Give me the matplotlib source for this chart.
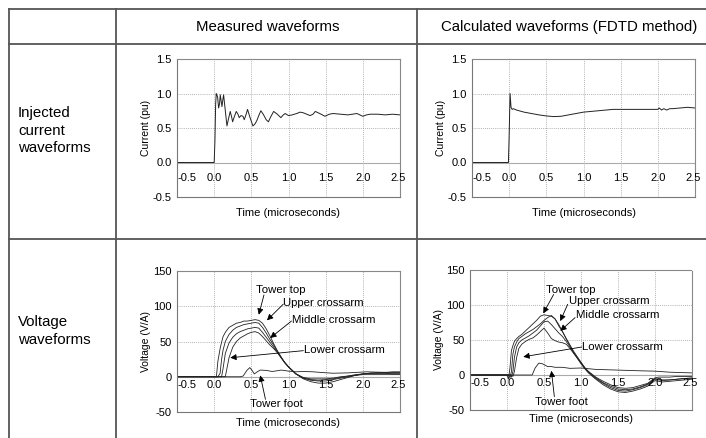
import matplotlib
matplotlib.use("Agg")
import matplotlib.pyplot as plt
from matplotlib.lines import Line2D

plt.rcParams["font.family"] = ["Liberation Sans", "DejaVu Sans"]

# injected current, measured
t_meas_i = [-0.5, 0.0, 0.01, 0.02, 0.028, 0.046, 0.06, 0.072, 0.082, 0.105, 0.118, 0.127, 0.15, 0.172,
            0.19, 0.216, 0.235, 0.248, 0.27, 0.297, 0.32, 0.337, 0.36, 0.387, 0.405, 0.43, 0.449,
            0.48, 0.521, 0.55, 0.575, 0.6, 0.628, 0.66, 0.7, 0.73, 0.76, 0.8, 0.85, 0.897, 0.93,
            0.955, 1.0, 1.05, 1.11, 1.157, 1.2, 1.29, 1.33, 1.36, 1.42, 1.49, 1.55, 1.6, 1.7, 1.8,
            1.92, 2.0, 2.05, 2.1, 2.2, 2.3, 2.4, 2.5]
i_meas = [0, 0, 0.3, 0.85, 1.0, 0.95, 0.79, 0.85, 0.98, 0.81, 0.92, 0.98, 0.75, 0.53,
          0.62, 0.74, 0.66, 0.59, 0.66, 0.74, 0.7, 0.65, 0.68, 0.67, 0.62, 0.7, 0.77,
          0.66, 0.53, 0.56, 0.61, 0.68, 0.75, 0.7, 0.62, 0.59, 0.66, 0.74, 0.7, 0.65, 0.69,
          0.71, 0.68, 0.69, 0.71, 0.73, 0.72, 0.68, 0.7, 0.74, 0.71, 0.67, 0.7, 0.71, 0.7, 0.69,
          0.71, 0.67, 0.69, 0.7, 0.7, 0.69, 0.7, 0.69]

# injected current, FDTD
t_calc_i = [-0.5, -0.01, 0.0, 0.012, 0.025, 0.04, 0.055, 0.1, 0.2, 0.3, 0.4, 0.5, 0.6, 0.7, 0.8,
            0.9, 1.0, 1.1, 1.2, 1.3, 1.4, 1.5, 1.7, 1.9, 2.0, 2.02, 2.05, 2.08, 2.12, 2.16, 2.2,
            2.3, 2.4, 2.5]
i_calc = [0, 0, 0.4, 1.0, 0.8, 0.77, 0.78, 0.76, 0.73, 0.71, 0.69, 0.675, 0.665, 0.67, 0.69,
          0.71, 0.73, 0.74, 0.75, 0.76, 0.77, 0.77, 0.77, 0.77, 0.77, 0.79, 0.76, 0.78, 0.76, 0.78,
          0.78, 0.79, 0.8, 0.79]

# voltage, measured
t_mv = [-0.5, 0.0, 0.03, 0.05, 0.08, 0.1, 0.12, 0.15, 0.2, 0.25, 0.3, 0.35, 0.4, 0.45, 0.5, 0.55,
        0.6, 0.65, 0.7, 0.75, 0.8, 0.85, 0.9, 0.95, 1.0, 1.1, 1.2, 1.3, 1.4, 1.5, 1.6, 1.7, 1.8,
        1.9, 2.0, 2.1, 2.2, 2.3, 2.4, 2.5]
v_top_m = [0, 0, 0, 22, 40, 49, 57, 63, 70, 73, 76, 77, 79, 79, 80, 81, 80, 76, 68, 58, 47, 37,
           28, 20, 14, 4, -3, -7, -9, -9, -7, -4, -1, 2, 4, 5, 6, 6, 7, 7]
v_upper_m = [0, 0, 0, 0, 5, 25, 38, 50, 60, 66, 70, 72, 74, 75, 76, 77, 76, 70, 62, 53, 45, 36,
             28, 20, 14, 4, -2, -5, -6, -6, -4, -2, 0, 2, 4, 5, 5, 5, 5, 5]
v_middle_m = [0, 0, 0, 0, 0, 0, 12, 33, 48, 56, 61, 64, 66, 68, 69, 70, 69, 63, 56, 49, 42, 35,
              27, 20, 14, 4, -2, -4, -5, -4, -3, -1, 1, 3, 4, 5, 5, 5, 4, 4]
v_lower_m = [0, 0, 0, 0, 0, 0, 0, 0, 27, 42, 50, 55, 58, 61, 63, 64, 62, 57, 51, 45, 40, 34,
             27, 20, 14, 4, -1, -3, -3, -3, -2, 0, 1, 2, 3, 3, 3, 3, 3, 3]
t_foot_m = [-0.5, 0.35, 0.39, 0.44, 0.48, 0.51, 0.54, 0.58, 0.62, 0.7, 0.78, 0.85, 0.9, 1.0,
            1.1, 1.2, 1.33, 1.45, 1.6, 1.8, 2.05, 2.2, 2.5]
v_foot_m = [0, 0, 1, 9, 13, 9, 4, 7, 9.5, 9, 7.5, 8.5, 9.5, 8, 7, 7.5, 7, 6, 5, 5.5, 7, 6.5, 6]

# voltage, FDTD
t_cv = [-0.5, 0.0, 0.02, 0.04, 0.06, 0.08, 0.1, 0.13, 0.16, 0.2, 0.25, 0.3, 0.35, 0.4, 0.45, 0.5,
        0.55, 0.6, 0.65, 0.7, 0.75, 0.8, 0.85, 0.9, 0.95, 1.0, 1.05, 1.1, 1.2, 1.3, 1.4, 1.5, 1.6,
        1.7, 1.8, 1.9, 1.95, 2.0, 2.05, 2.1, 2.2, 2.3, 2.4, 2.5]
v_top_c = [0, 0, -6, 10, 35, 42, 48, 52, 55, 58, 63, 68, 73, 78, 84, 86, 85, 84, 80, 70, 62, 52,
           42, 32, 24, 16, 9, 3, -6, -14, -20, -24, -25, -23, -20, -16, -12, -8, -9, -10, -9, -8,
           -7, -6]
v_upper_c = [0, 0, 0, -4, 5, 30, 40, 47, 52, 55, 59, 62, 65, 69, 73, 78, 82, 85, 80, 72, 62, 52,
             43, 34, 26, 18, 10, 4, -5, -12, -18, -22, -23, -21, -18, -14, -10, -6, -7, -8, -7,
             -6, -5, -5]
v_middle_c = [0, 0, 0, 0, -3, 5, 25, 40, 46, 50, 53, 56, 60, 64, 70, 76, 77, 72, 66, 60, 55, 48,
              40, 32, 25, 18, 11, 5, -4, -11, -16, -20, -21, -20, -17, -13, -9, -5, -6, -7, -7,
              -6, -5, -4]
v_lower_c = [0, 0, 0, 0, 0, -2, 5, 25, 38, 44, 48, 51, 53, 57, 62, 67, 60, 52, 49, 47, 46, 44,
             38, 31, 24, 17, 10, 5, -3, -9, -14, -18, -19, -18, -15, -12, -8, -4, -3, -3, -3,
             -2, -2, -2]
t_foot_c = [-0.5, 0.34, 0.38, 0.43, 0.48, 0.55, 0.6, 0.65, 0.75, 0.85, 1.0, 1.2, 1.5, 1.8, 2.0,
            2.2, 2.5]
v_foot_c = [0, 0, 10, 17, 16, 12, 12, 11, 11, 9.5, 10, 8, 7, 6, 5.5, 4, 3]

x_ticks = [-0.5, 0.0, 0.5, 1.0, 1.5, 2.0, 2.5]
labels = ["Tower top", "Upper crossarm", "Middle crossarm", "Lower crossarm", "Tower foot"]

W, H = 706, 438
fig = plt.figure(figsize=(W / 100, H / 100), dpi=100)


def px_axes(x0, y0, x1, y1):
    return fig.add_axes([x0 / W, 1 - y1 / H, (x1 - x0) / W, (y1 - y0) / H])


def px_line(xs, ys):
    fig.add_artist(Line2D([x / W for x in xs], [1 - y / H for y in ys],
                          color="#555555", lw=1.3))


def style_axes(ax, ylim, yticks, ylabel, lbl_y, xlabel_pad):
    ax.set_xlim(-0.5, 2.5)
    ax.set_ylim(*ylim)
    ax.set_xticks(x_ticks)
    ax.set_xticklabels([])
    ax.set_yticks(yticks)
    ax.set_yticklabels([f"{v:.1f}" if isinstance(v, float) else str(v) for v in yticks],
                       fontsize=8)
    ax.tick_params(length=0, pad=4)
    for s in ["left", "bottom"]:
        ax.spines[s].set_color("#777777")
        ax.spines[s].set_linewidth(0.8)
    for s in ["top", "right"]:
        ax.spines[s].set_color("#888888")
        ax.spines[s].set_linewidth(0.8)
        ax.spines[s].set_linestyle((0, (1, 1)))
    for x in x_ticks[1:-1]:
        ax.axvline(x, color="#999999", lw=0.6, ls=(0, (1, 1.5)), zorder=0)
    for y in yticks[1:-1]:
        if y != 0:
            ax.axhline(y, color="#999999", lw=0.6, ls=(0, (1, 1.5)), zorder=0)
    ax.axhline(0, color="#aaaaaa", lw=0.8, zorder=0)
    # x tick labels sit just under the zero line, end labels pulled inward
    for x in x_ticks:
        ha = "center"
        xpos = x
        if x == x_ticks[0]:
            ha, xpos = "left", x + 0.005
        elif x == x_ticks[-1]:
            xpos = x - 0.03
        ax.text(xpos, lbl_y, f"{x:.1f}", ha=ha, va="center", fontsize=8)
    ax.set_ylabel(ylabel, fontsize=7.5)
    ax.yaxis.set_label_coords(-0.117, 0.5)
    ax.set_xlabel("Time (microseconds)", fontsize=8)
    ax.xaxis.set_label_coords(0.5, xlabel_pad)


def arrow(ax, start, tip):
    ax.annotate("", xy=tip, xytext=start,
                arrowprops=dict(arrowstyle="-|>", color="black", lw=0.6,
                                mutation_scale=9, shrinkA=0, shrinkB=0))


# table
px_line([9, W], [9, 9])
px_line([9, W], [43.5, 43.5])
px_line([9, W], [239, 239])
px_line([9, 9], [9, H])
px_line([116, 116], [9, H])
px_line([416.5, 416.5], [9, H])

fig.text(268 / W, 1 - 27 / H, "Measured waveforms", ha="center", va="center", fontsize=10.8)
fig.text(569 / W, 1 - 27 / H, "Calculated waveforms (FDTD method)", ha="center", va="center",
         fontsize=10.8)
fig.text(18 / W, 1 - 106 / H, "Injected\ncurrent\nwaveforms", ha="left", va="top",
         fontsize=10.8, linespacing=1.32)
fig.text(18 / W, 1 - 315 / H, "Voltage\nwaveforms", ha="left", va="top", fontsize=10.8,
         linespacing=1.32)

# current plots
ax1 = px_axes(177, 59, 400, 197)
style_axes(ax1, (-0.5, 1.5), [-0.5, 0.0, 0.5, 1.0, 1.5], "Current (pu)", -0.22, -0.08)
ax1.plot(t_meas_i, i_meas, color="#222222", lw=0.7)

ax2 = px_axes(472, 59, 695, 197)
style_axes(ax2, (-0.5, 1.5), [-0.5, 0.0, 0.5, 1.0, 1.5], "Current (pu)", -0.22, -0.08)
ax2.plot(t_calc_i, i_calc, color="#222222", lw=0.7)

# voltage plots
ax3 = px_axes(177, 271, 400, 412)
style_axes(ax3, (-50, 150), [-50, 0, 50, 100, 150], "Voltage (V/A)", -12, -0.04)
for v in [v_top_m, v_upper_m, v_middle_m, v_lower_m]:
    ax3.plot(t_mv, v, color="#222222", lw=0.6)
ax3.plot(t_foot_m, v_foot_m, color="#222222", lw=0.6)

ax3.text(0.9, 123, labels[0], ha="center", va="center", fontsize=8.2)
arrow(ax3, (0.67, 116), (0.6, 88))
ax3.text(0.93, 104.6, labels[1], ha="left", va="center", fontsize=8.2)
arrow(ax3, (0.93, 103), (0.71, 80))
ax3.text(1.045, 80, labels[2], ha="left", va="center", fontsize=8.2)
arrow(ax3, (1.04, 79), (0.754, 55))
ax3.text(1.21, 37.4, labels[3], ha="left", va="center", fontsize=8.2)
arrow(ax3, (1.2, 37), (0.216, 27))
ax3.text(0.84, -39, labels[4], ha="center", va="center", fontsize=8.2)
arrow(ax3, (0.69, -32), (0.62, 2))

ax4 = px_axes(470, 270, 692, 410)
style_axes(ax4, (-50, 150), [-50, 0, 50, 100, 150], "Voltage (V/A)", -12, -0.03)
for v in [v_top_c, v_upper_c, v_middle_c, v_lower_c]:
    ax4.plot(t_cv, v, color="#222222", lw=0.6)
ax4.plot(t_foot_c, v_foot_c, color="#222222", lw=0.6)

ax4.text(0.86, 121.7, labels[0], ha="center", va="center", fontsize=8.2)
arrow(ax4, (0.63, 115), (0.49, 88))
ax4.text(0.844, 106, labels[1], ha="left", va="center", fontsize=8.2)
arrow(ax4, (0.82, 101), (0.72, 77))
ax4.text(0.93, 85, labels[2], ha="left", va="center", fontsize=8.2)
arrow(ax4, (0.92, 82), (0.72, 63))
ax4.text(1.02, 40.6, labels[3], ha="left", va="center", fontsize=8.2)
arrow(ax4, (1.01, 40), (0.22, 26))
ax4.text(0.74, -38.7, labels[4], ha="center", va="center", fontsize=8.2)
arrow(ax4, (0.64, -31), (0.6, 6))

fig.savefig("out.png", dpi=100)
